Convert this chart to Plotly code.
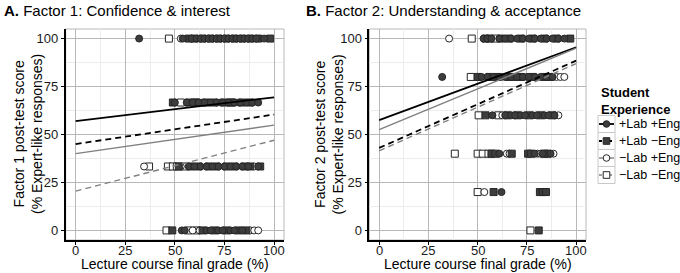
import plotly.graph_objects as go

# ---------------- data ----------------
groups = ["+Lab +Eng", "+Lab \u2212Eng", "\u2212Lab +Eng", "\u2212Lab \u2212Eng"]

# Factor 1: score level -> list of lecture course grades
f1_lab_eng = {
    100: [32, 54, 58.5, 61, 63, 65, 67, 69, 71, 73, 75, 77, 79, 81, 83, 85, 87, 89, 91, 95],
    66.67: [50, 56, 59, 62, 65, 68, 71, 74, 77, 80, 83, 86, 89, 92],
    33.33: [57, 60, 63, 66, 69, 72, 75, 78, 81, 84, 87, 92],
    0: [53.5, 55, 66, 68, 72, 74, 78, 80, 84],
}
f1_lab_noeng = {
    100: [57, 60, 64, 68, 72, 76, 80, 84, 88, 92, 98],
    66.67: [49, 57, 61, 66, 70, 75, 79, 84, 88],
    33.33: [52, 58, 62, 67, 71, 76, 80, 85, 88, 93],
    0: [48.7, 64, 70, 76, 82, 86],
}
f1_nolab_eng = {
    100: [53],
    66.67: [64, 73, 82],
    33.33: [34.5, 53, 90],
    0: [59, 62.5, 88, 90, 92],
}
f1_nolab_noeng = {
    100: [47],
    66.67: [53, 60, 78],
    33.33: [37, 46.5, 49, 51, 55],
    0: [45.8, 57, 61],
}

# Factor 2
f2_lab_eng = {
    100: [53, 55, 57, 61, 64, 67, 70, 73, 76, 79, 82, 85, 88, 91, 94],
    80: [32, 52, 55, 58, 61, 64, 67, 70, 73, 76, 79, 82, 85, 88],
    60: [57.5, 64, 67, 69, 72, 74, 78, 80, 84, 86, 89],
    40: [61, 79, 83, 87],
    20: [62.1],
    0: [],
}
f2_lab_noeng = {
    100: [54, 56, 62, 66, 72, 78, 84, 90, 97],
    80: [50, 56, 60, 66, 72, 78, 84, 87],
    60: [54, 65, 70, 76, 82, 88],
    40: [57, 59, 67.3, 75.6, 77, 84, 85.5],
    20: [58.1, 81.6, 83, 84.7],
    0: [81],
}
f2_nolab_eng = {
    100: [35.5],
    80: [62, 75, 86, 90, 92, 94],
    60: [62.5, 91],
    40: [64.8, 66.2, 80.5, 82, 88.5],
    20: [53.4],
    0: [],
}
f2_nolab_noeng = {
    100: [47, 59],
    80: [46.5, 69],
    60: [50.5, 60.5],
    40: [38.4, 50, 52.6, 55.5],
    20: [50],
    0: [76.8],
}

# Linear fits (intercept at grade 0, slope per grade point)
f1_intercepts = [57.0, 45.0, 40.0, 20.5]
f1_slopes = [0.124, 0.154, 0.149, 0.265]
f2_intercepts = [57.5, 43.0, 52.5, 41.5]
f2_slopes = [0.38, 0.455, 0.425, 0.455]
fit_x = [0, 100]

ticks = [0, 25, 50, 75, 100]

# ---------------- styles ----------------
W, H = 680, 273
symbols = ["circle", "square", "circle", "square"]
fills = ["#3d3d3d", "#3d3d3d", "#ffffff", "#ffffff"]
line_colors = ["#000000", "#000000", "#808080", "#808080"]
dashes = ["solid", "6px,4px", "solid", "6px,4px"]
line_widths = [1.8, 1.8, 1.4, 1.4]
FONT = "Liberation Sans, Arial, Helvetica, sans-serif"
TICK_FONT = dict(size=13, color="#1a1a1a", family=FONT)

fig = go.Figure()

def add_points(data_list, xa, ya):
    # open markers first, filled markers on top
    for gi in [3, 2, 1, 0]:
        d = data_list[gi]
        xs, ys = [], []
        for s, gl in d.items():
            for g in gl:
                xs.append(g)
                ys.append(s)
        fig.add_trace(go.Scatter(
            x=xs, y=ys, mode="markers", xaxis=xa, yaxis=ya, showlegend=False,
            marker=dict(symbol=symbols[gi], size=7, color=fills[gi],
                        line=dict(color="#262626", width=1)),
            hoverinfo="skip"))

def add_fits(intercepts, slopes, xa, ya):
    for gi in range(4):
        ys = [intercepts[gi] + slopes[gi] * x for x in fit_x]
        fig.add_trace(go.Scatter(
            x=fit_x, y=ys, mode="lines", xaxis=xa, yaxis=ya, showlegend=False,
            line=dict(color=line_colors[gi], width=line_widths[gi], dash=dashes[gi]),
            hoverinfo="skip"))

add_points([f1_lab_eng, f1_lab_noeng, f1_nolab_eng, f1_nolab_noeng], "x", "y")
add_fits(f1_intercepts, f1_slopes, "x", "y")
add_points([f2_lab_eng, f2_lab_noeng, f2_nolab_eng, f2_nolab_noeng], "x2", "y2")
add_fits(f2_intercepts, f2_slopes, "x2", "y2")

axis_common = dict(
    range=[-5, 105], tickvals=ticks, ticktext=[str(t) for t in ticks],
    showgrid=True, gridcolor="#b8b8b8", gridwidth=1.2,
    minor=dict(tickvals=[12.5, 37.5, 62.5, 87.5], showgrid=True, gridcolor="#ececec", gridwidth=1),
    zeroline=False, showline=True, linecolor="#000000", linewidth=1.6,
    ticks="outside", ticklen=3, tickcolor="#000000", tickwidth=1,
    tickfont=TICK_FONT,
    fixedrange=True, automargin=False,
)

ydom = [33 / H, 244 / H]
xdom1 = [65.7 / W, 284 / W]
xdom2 = [369.3 / W, 586 / W]
fig.update_layout(
    width=W, height=H,
    margin=dict(l=0, r=0, t=0, b=0, autoexpand=False),
    paper_bgcolor="white", plot_bgcolor="white",
    font=dict(family=FONT, color="#000000"),
    xaxis=dict(domain=xdom1, anchor="y", showticklabels=False, **axis_common),
    yaxis=dict(domain=ydom, anchor="x", **axis_common),
    xaxis2=dict(domain=xdom2, anchor="y2", showticklabels=False, **axis_common),
    yaxis2=dict(domain=ydom, anchor="x2", **axis_common),
    showlegend=False,
)

# grey panel borders (top/right)
for xd in (xdom1, xdom2):
    fig.add_shape(type="rect", xref="paper", yref="paper",
                  x0=xd[0], x1=xd[1], y0=ydom[0], y1=ydom[1],
                  line=dict(color="#b8b8b8", width=1), layer="below")

def px(xp):
    return xp / W

def py(yp):
    return (H - yp) / H

annotations = [
    dict(text="<b>A.</b> Factor 1: Confidence &amp; interest", x=px(2), y=py(11),
         xanchor="left", yanchor="middle", font=dict(size=15)),
    dict(text="<b>B.</b> Factor 2: Understanding &amp; acceptance", x=px(304), y=py(11),
         xanchor="left", yanchor="middle", font=dict(size=15)),
    dict(text="Factor 1 post-test score<br>(% Expert-like responses)", x=px(27.5), y=py(134.5),
         xanchor="center", yanchor="middle", textangle=-90, font=dict(size=14)),
    dict(text="Factor 2 post-test score<br>(% Expert-like responses)", x=px(328), y=py(134.5),
         xanchor="center", yanchor="middle", textangle=-90, font=dict(size=14)),
    dict(text="Lecture course final grade (%)", x=px(175), y=py(264),
         xanchor="center", yanchor="middle", font=dict(size=14), borderpad=0),
    dict(text="Lecture course final grade (%)", x=px(478), y=py(264),
         xanchor="center", yanchor="middle", font=dict(size=14), borderpad=0),
    dict(text="<b>Student<br>Experience</b>", x=px(599), y=py(101),
         xanchor="left", yanchor="middle", align="left", font=dict(size=13)),
]

# x tick labels placed at the data positions of each x axis
for xr in ("x", "x2"):
    for t in ticks:
        fig.add_annotation(text=str(t), xref=xr, yref="paper", x=t, y=py(250),
                           xanchor="center", yanchor="middle", showarrow=False,
                           font=TICK_FONT, borderpad=0)

# manual legend: key boxes, key lines, key markers and labels
key_x0, key_x1 = 598, 615
key_centers = [124, 141, 158, 175]
for gi in range(4):
    cy = key_centers[gi]
    cx = (key_x0 + key_x1) / 2
    fig.add_shape(type="rect", xref="paper", yref="paper",
                  x0=px(key_x0), x1=px(key_x1), y0=py(cy + 8.5), y1=py(cy - 8.5),
                  line=dict(color="#c8c8c8", width=1), fillcolor="white")
    fig.add_shape(type="line", xref="paper", yref="paper",
                  x0=px(key_x0 + 1), x1=px(key_x1 - 1), y0=py(cy), y1=py(cy),
                  line=dict(color=line_colors[gi], width=line_widths[gi],
                            dash="3px,2px" if "px" in dashes[gi] else "solid"))
    shape_type = "circle" if symbols[gi] == "circle" else "rect"
    fig.add_shape(type=shape_type, xref="paper", yref="paper",
                  x0=px(cx - 3.3), x1=px(cx + 3.3), y0=py(cy + 3.3), y1=py(cy - 3.3),
                  line=dict(color="#262626", width=1), fillcolor=fills[gi])
    annotations.append(dict(text=groups[gi], x=px(617), y=py(cy),
                            xanchor="left", yanchor="middle", font=dict(size=12.5)))

for a in annotations:
    fig.add_annotation(xref="paper", yref="paper", showarrow=False, **a)

fig.write_html("out.html", config={"displayModeBar": False},
               post_script="document.body.style.margin='0px';document.body.style.overflow='hidden';")
